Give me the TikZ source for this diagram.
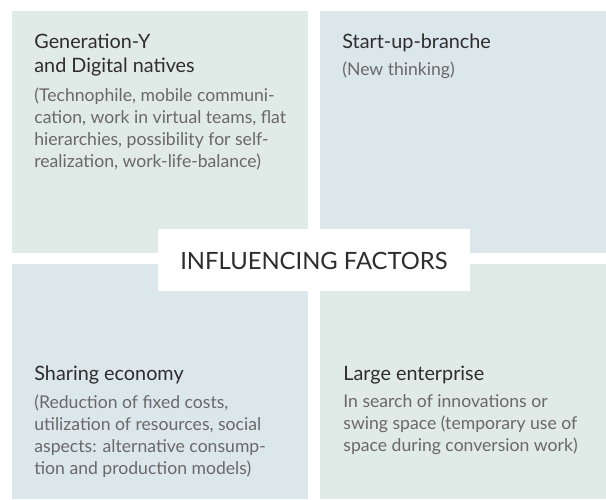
\documentclass[tikz,border=0pt]{standalone}
\usepackage{fontspec}
\setmainfont{Lato}
\usepackage{xcolor}
\definecolor{sage}{HTML}{E0EAE7}
\definecolor{mist}{HTML}{DCE7EC}
\definecolor{heading}{HTML}{2E2C2C}
\definecolor{muted}{HTML}{6A6868}
\usepackage{tikz}
\usetikzlibrary{positioning}

\begin{document}
\begin{tikzpicture}[
  x=0.5pt, y=-0.5pt,
  every node/.style={align=left, inner sep=0pt, anchor=north west},
  title/.style={heading, font=\fontsize{9.9}{12}\selectfont},
  body/.style={muted, font=\fontsize{8.8}{11}\selectfont}
]
  \useasboundingbox (0,0) rectangle (606,499);
  % the four quarters
  \fill[sage] (12,11) rectangle (308,253);
  \fill[mist] (320,11) rectangle (606,253);
  \fill[mist] (12,264) rectangle (308,499);
  \fill[sage] (320,264) rectangle (606,499);

  % top left
  \node[title] (gen) at (34,34) {Generation-Y\\and Digital natives};
  \node[body, below=5.5pt of gen.south west, anchor=north west] (genText)
    {(Technophile, mobile communi-\\cation, work in virtual teams, flat\\
     hierarchies, possibility for self-\\realization, work-life-balance)};

  % top right
  \node[title] (start) at (342,34) {Start-up-branche};
  \node[body, below=4.5pt of start.south west, anchor=north west] (startText)
    {(New thinking)};

  % bottom left
  \node[title] (share) at (34,366) {Sharing economy};
  \node[body, below=4.5pt of share.south west, anchor=north west] (shareText)
    {(Reduction of fixed costs,\\utilization of resources, social\\
     aspects: alternative consump-\\tion and production models)};

  % bottom right
  \node[title] (large) at (343,366) {Large enterprise};
  \node[body, below=4.5pt of large.south west, anchor=north west] (largeText)
    {In search of innovations or\\swing space (temporary use of\\
     space during conversion work)};

  % label in the middle
  \fill[white] (158,229) rectangle (470,291);
  \node[heading, anchor=center, font=\fontsize{11.9}{14}\selectfont] (factors)
    at (314,261) {INFLUENCING FACTORS};
\end{tikzpicture}
\end{document}
